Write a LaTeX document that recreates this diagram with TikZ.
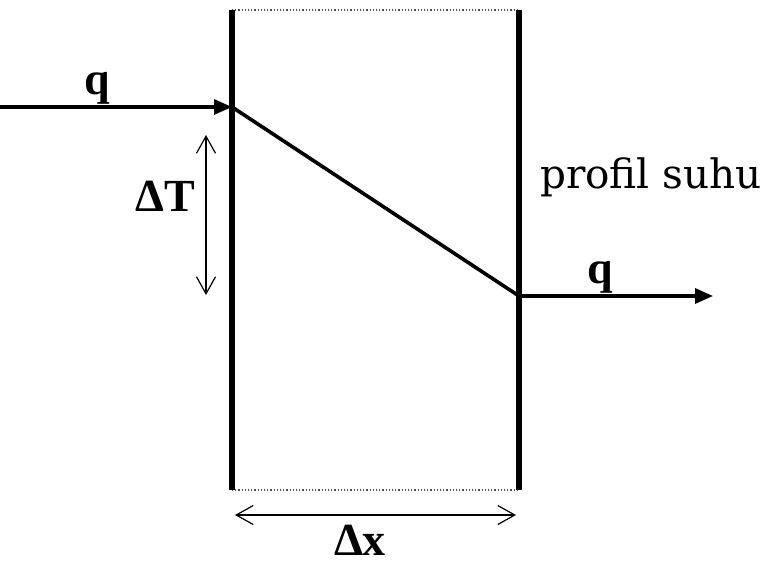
\documentclass[tikz,border=0pt]{standalone}
\usepackage{fontspec}
\setmainfont{Liberation Serif}
\newfontfamily\slabfont{DejaVu Serif}
\usetikzlibrary{arrows.meta}
\begin{document}
\begin{tikzpicture}[x=1pt,y=-1pt,
  wall/.style={line width=5.5pt},
  flux/.style={line width=3.2pt,-{Triangle[length=18pt,width=15pt]}},
  dim/.style={line width=1.2pt,{Straight Barb[length=17pt,width=19pt,line width=1.2pt]}-{Straight Barb[length=17pt,width=19pt,line width=1.2pt]}},
  lab/.style={font=\fontsize{46}{50}\selectfont\bfseries, inner sep=0pt},
  thinedge/.style={line width=1.2pt, dotted, gray!60!black}]
\useasboundingbox (0,0) rectangle (767,560);
% corners
\coordinate (lt) at (232,10);
\coordinate (lb) at (232,490);
\coordinate (rt) at (519,10);
\coordinate (rb) at (519,490);
\coordinate (tin) at (232,107);
\coordinate (tout) at (519,296);
\coordinate (qstart) at (0,107);
\coordinate (qend) at (713,296);
\coordinate (dTa) at (206,135);
\coordinate (dTb) at (206,295);
\coordinate (dxa) at (235,515);
\coordinate (dxb) at (516,515);
% box edges
\draw[thinedge] (lt) -- (rt);
\draw[thinedge] (lb) -- (rb);
\draw[wall] (lt) -- (lb);
\draw[wall] (rt) -- (rb);
% flux arrows
\draw[flux] (qstart) -- (tin);
\draw[flux] (tout) -- (qend);
% temperature profile
\draw[line width=3.6pt] (tin) -- (tout);
% dimension arrows
\draw[dim] (dTa) -- (dTb);
\draw[dim] (dxa) -- (dxb);
% labels
\node[lab] (q1) at (97,88) {q};
\node[lab] (q2) at (600,277) {q};
\node[lab] (dT) at (165,196) {ΔT};
\node[lab] (dx) at (360,540) {Δx};
\node[font=\slabfont\fontsize{40.5}{44}\selectfont, inner sep=0pt] (ps) at (651,177) {profil suhu};
\end{tikzpicture}
\end{document}
